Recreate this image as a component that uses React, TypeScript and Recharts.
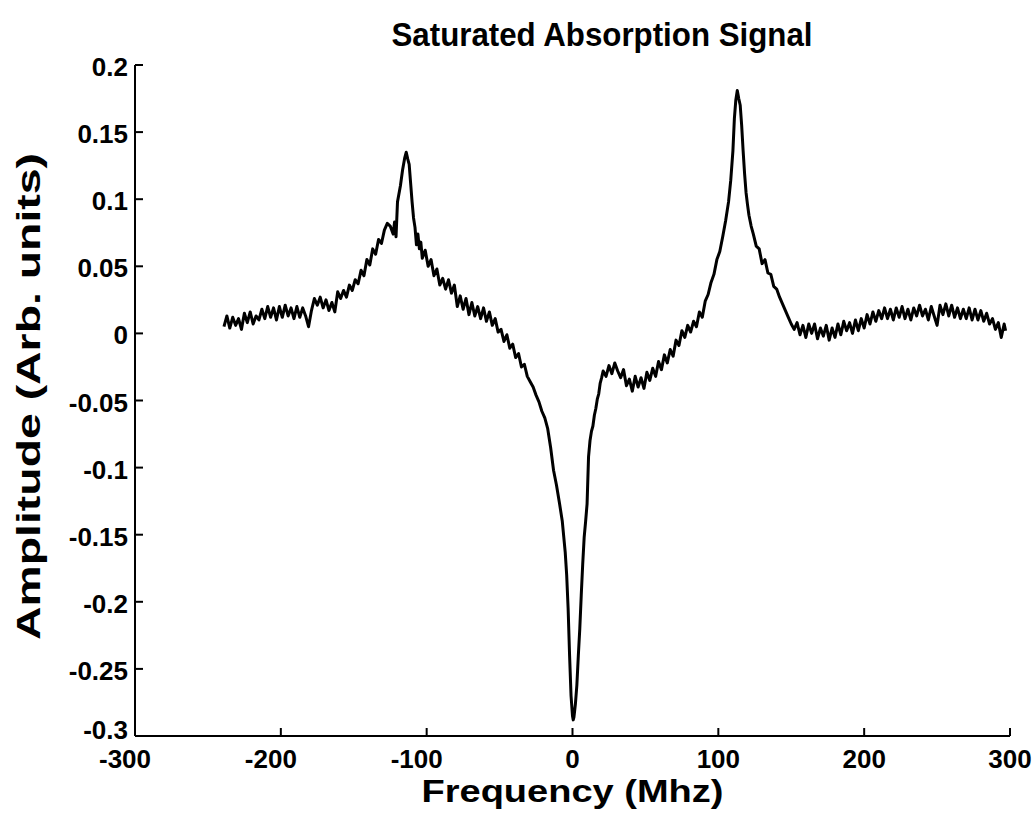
import { LineChart, Line, XAxis, YAxis, Label } from 'recharts';

// frequency (MHz) and amplitude (arb. units)
const freq = [
  -239, -237, -235, -233, -231, -229, -227, -225, -223, -221,
  -219, -217, -215, -213, -211, -209, -207, -205, -203, -201,
  -199, -197, -195, -193, -191, -189, -187, -185, -183, -181,
  -179, -177, -175, -173, -171, -169, -167, -165, -163, -161,
  -159, -157, -155, -153, -151, -149, -147, -145, -143, -141,
  -139, -137, -135, -133, -131, -129, -127, -125, -123, -122,
  -121, -120, -118, -116.5, -115, -114, -113, -112, -111, -110,
  -109, -108, -107, -106, -105, -104, -103, -101, -99, -97,
  -95, -93, -91, -89, -87, -85, -83, -81, -79, -77,
  -75, -73, -71, -69, -67, -65, -63, -61, -59, -57,
  -55, -53, -51, -49, -47, -45, -43, -41, -39, -37,
  -35, -33, -31, -29, -27, -25, -23, -21, -19, -17,
  -15, -13, -11, -9, -7, -5, -4, -3, -2, -1,
  0, 0.5, 1, 2, 3, 4, 5, 6, 7, 8,
  9, 10, 11, 12, 13, 14, 15, 16, 17, 18,
  19, 20, 21, 23, 25, 27, 29, 31, 33, 35,
  37, 39, 41, 43, 45, 47, 49, 51, 53, 55,
  57, 59, 61, 63, 65, 67, 69, 71, 73, 75,
  77, 79, 81, 83, 85, 87, 89, 91, 93, 95,
  97, 99, 101, 103, 105, 107, 108.5, 110, 111, 112,
  113, 114, 115, 116, 117, 118, 119, 120, 121, 122.5,
  124, 126, 128, 130, 132, 134, 136, 138, 140, 142,
  144, 146, 148, 150, 152, 154, 156, 158, 160, 162,
  164, 166, 168, 170, 172, 174, 176, 178, 180, 182,
  184, 186, 188, 190, 192, 194, 196, 198, 200, 202,
  204, 206, 208, 210, 212, 214, 216, 218, 220, 222,
  224, 226, 228, 230, 232, 234, 236, 238, 240, 242,
  244, 246, 248, 250, 252, 254, 256, 258, 260, 262,
  264, 266, 268, 270, 272, 274, 276, 278, 280, 282,
  284, 286, 288, 290, 292, 294, 296, 297,
];

const amp = [
  0.005, 0.013, 0.004, 0.012, 0.006, 0.011, 0.003, 0.015, 0.008, 0.016,
  0.007, 0.013, 0.010, 0.018, 0.011, 0.020, 0.012, 0.019, 0.010, 0.020,
  0.012, 0.021, 0.013, 0.019, 0.011, 0.020, 0.012, 0.019, 0.013, 0.005,
  0.017, 0.026, 0.021, 0.027, 0.019, 0.025, 0.017, 0.023, 0.016, 0.031,
  0.026, 0.032, 0.027, 0.036, 0.032, 0.040, 0.037, 0.047, 0.043, 0.055,
  0.051, 0.063, 0.059, 0.070, 0.067, 0.077, 0.082, 0.080, 0.074, 0.083,
  0.072, 0.098, 0.110, 0.122, 0.131, 0.135, 0.130, 0.126, 0.112, 0.098,
  0.086, 0.079, 0.066, 0.074, 0.063, 0.068, 0.056, 0.062, 0.050, 0.055,
  0.043, 0.048, 0.036, 0.041, 0.033, 0.040, 0.030, 0.036, 0.020, 0.028,
  0.018, 0.026, 0.014, 0.023, 0.013, 0.020, 0.011, 0.019, 0.009, 0.016,
  0.006, 0.011, 0.001, 0.003, -0.006, -0.001, -0.011, -0.008, -0.018, -0.015,
  -0.025, -0.023, -0.032, -0.036, -0.040, -0.046, -0.051, -0.058, -0.063, -0.071,
  -0.085, -0.102, -0.113, -0.126, -0.140, -0.163, -0.180, -0.205, -0.240, -0.270,
  -0.285, -0.288, -0.286, -0.276, -0.262, -0.240, -0.220, -0.195, -0.172, -0.152,
  -0.140, -0.127, -0.092, -0.080, -0.073, -0.069, -0.061, -0.056, -0.049, -0.045,
  -0.037, -0.033, -0.028, -0.032, -0.024, -0.030, -0.022, -0.028, -0.033, -0.027,
  -0.039, -0.034, -0.043, -0.032, -0.040, -0.033, -0.041, -0.029, -0.035, -0.026,
  -0.032, -0.021, -0.027, -0.016, -0.022, -0.012, -0.017, -0.005, -0.009, 0.002,
  -0.003, 0.006, 0.001, 0.009, 0.005, 0.016, 0.012, 0.024, 0.029, 0.038,
  0.044, 0.055, 0.061, 0.072, 0.084, 0.098, 0.114, 0.136, 0.160, 0.174,
  0.181, 0.175, 0.170, 0.155, 0.136, 0.119, 0.105, 0.096, 0.088, 0.080,
  0.074, 0.065, 0.063, 0.052, 0.055, 0.045, 0.044, 0.035, 0.033, 0.027,
  0.022, 0.017, 0.012, 0.007, 0.003, 0.008, -0.001, 0.006, -0.003, 0.007,
  0.000, 0.007, -0.004, 0.004, -0.002, 0.006, -0.005, 0.004, -0.003, 0.007,
  -0.001, 0.009, 0.002, 0.008, 0.000, 0.010, 0.002, 0.011, 0.004, 0.014,
  0.007, 0.016, 0.009, 0.017, 0.011, 0.019, 0.011, 0.018, 0.010, 0.019,
  0.012, 0.020, 0.011, 0.018, 0.010, 0.019, 0.013, 0.021, 0.013, 0.018,
  0.010, 0.020, 0.013, 0.006, 0.021, 0.014, 0.022, 0.013, 0.021, 0.012,
  0.019, 0.011, 0.018, 0.011, 0.019, 0.010, 0.018, 0.010, 0.017, 0.009,
  0.015, 0.007, 0.011, 0.003, 0.008, -0.003, 0.007, 0.002,
];

const xTicks = [-300, -200, -100, 0, 100, 200, 300];
const yTicks = [-0.3, -0.25, -0.2, -0.15, -0.1, -0.05, 0, 0.05, 0.1, 0.15, 0.2];

const data = freq.map((f, i) => ({ freq: f, amp: amp[i] }));

const FONT = '"Liberation Sans", Arial, Helvetica, sans-serif';
const X_MARGIN = 20;
const Y_MARGIN = 20;
const TICK_LEN = 8;

const XTick = (props: any) => {
  const { x, y, payload } = props;
  const axisY = y - X_MARGIN;
  const v = payload.value as number;
  return (
    <g>
      <line x1={x} x2={x} y1={axisY} y2={axisY - TICK_LEN} stroke="#000" strokeWidth={2} />
      <text
        x={v < 0 ? x - 10 : x}
        y={axisY + 32}
        textAnchor="middle"
        fontSize={26}
        fontWeight="bold"
        fontFamily={FONT}
        fill="#000"
      >
        {v}
      </text>
    </g>
  );
};

const YTick = (props: any) => {
  const { x, y, payload } = props;
  const axisX = x + Y_MARGIN;
  // the lowest label sits a little higher so it clears the "-300" below it
  const dy = payload.value === -0.3 ? 3 : 11;
  return (
    <g>
      <line x1={axisX} x2={axisX + TICK_LEN} y1={y} y2={y} stroke="#000" strokeWidth={2} />
      <text
        x={axisX - 7}
        y={y + dy}
        textAnchor="end"
        fontSize={26}
        fontWeight="bold"
        fontFamily={FONT}
        fill="#000"
      >
        {payload.value}
      </text>
    </g>
  );
};

const XLabel = (props: any) => {
  const vb = props.viewBox;
  return (
    <text
      x={vb.x + vb.width / 2}
      y={vb.y + 66}
      textAnchor="middle"
      fontSize={31}
      fontWeight="bold"
      fontFamily={FONT}
      textLength={302}
      lengthAdjust="spacingAndGlyphs"
      fill="#000"
    >
      Frequency (Mhz)
    </text>
  );
};

const YLabel = (props: any) => {
  const vb = props.viewBox;
  const cy = vb.y + vb.height / 2 - 4;
  return (
    <text
      x={40}
      y={cy}
      transform={`rotate(-90 40 ${cy})`}
      textAnchor="middle"
      fontSize={33}
      fontWeight="bold"
      fontFamily={FONT}
      textLength={487}
      lengthAdjust="spacingAndGlyphs"
      fill="#000"
    >
      Amplitude (Arb. units)
    </text>
  );
};

export default function App() {
  return (
    <div style={{ position: 'absolute', left: 0, top: 0, width: 1036, height: 816, background: '#fff' }}>
      <svg width={1036} height={62} style={{ position: 'absolute', left: 0, top: 0 }}>
        <text
          x={602}
          y={46}
          textAnchor="middle"
          fontSize={33}
          fontWeight="bold"
          fontFamily={FONT}
          textLength={421}
          lengthAdjust="spacingAndGlyphs"
          fill="#000"
        >
          Saturated Absorption Signal
        </text>
      </svg>
      <LineChart
        width={1036}
        height={816}
        data={data}
        margin={{ top: 65, right: 26, bottom: 0, left: 0 }}
      >
        <XAxis
          type="number"
          dataKey="freq"
          domain={[-300, 300]}
          ticks={xTicks}
          interval={0}
          height={80}
          tickSize={0}
          tickMargin={X_MARGIN}
          tickLine={false}
          tick={<XTick />}
          axisLine={{ stroke: '#000', strokeWidth: 2 }}
        >
          <Label content={<XLabel />} />
        </XAxis>
        <YAxis
          type="number"
          domain={[-0.3, 0.2]}
          ticks={yTicks}
          interval={0}
          width={135}
          tickSize={0}
          tickMargin={Y_MARGIN}
          tickLine={false}
          tick={<YTick />}
          axisLine={{ stroke: '#000', strokeWidth: 2 }}
          allowDataOverflow
        >
          <Label content={<YLabel />} />
        </YAxis>
        <Line
          type="linear"
          dataKey="amp"
          stroke="#000"
          strokeWidth={3}
          strokeLinejoin="round"
          dot={false}
          isAnimationActive={false}
        />
      </LineChart>
    </div>
  );
}
